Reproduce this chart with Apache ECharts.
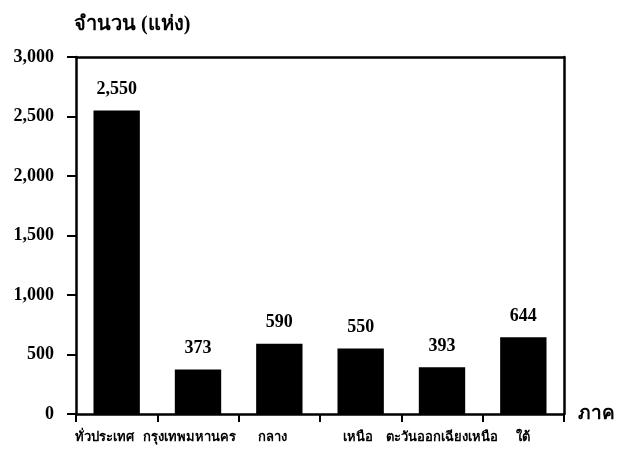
<!DOCTYPE html>
<html><head><meta charset="utf-8">
<script src="https://cdn.jsdelivr.net/npm/echarts@6/dist/echarts.min.js"></script>
<style>html,body{margin:0;padding:0;background:#fff}#c{width:618px;height:454px}</style>
</head><body><div id="c"></div>
<script>
const categories = ['ทั่วประเทศ','กรุงเทพมหานคร','กลาง','เหนือ','ตะวันออกเฉียงเหนือ','ใต้'];
const values = [2550, 373, 590, 550, 393, 644];
const yTicks = [0, 500, 1000, 1500, 2000, 2500, 3000];
const yTitle = 'จำนวน (แห่ง)';
const xTitle = 'ภาค';

const fmt = v => Number(v).toLocaleString('en-US');
const serif = '"Liberation Serif", "Times New Roman", serif';
// small leftward nudges of the category labels, as in the reference
const labelNudge = [24, 18, 14, 6, 0, 0];
const catData = categories.map((c, i) => ({value: c, textStyle: {padding: [0, labelNudge[i], 0, 0]}}));

const chart = echarts.init(document.getElementById('c'));
chart.setOption({
  animation: false,
  grid: {left: 76, right: 54, top: 57, bottom: 40, containLabel: false},
  xAxis: [{
    type: 'category', data: catData, position: 'bottom',
    name: xTitle, nameLocation: 'end', nameGap: 14,
    nameTextStyle: {color: '#000', fontWeight: 'bold', fontSize: 19, fontFamily: serif, verticalAlign: 'middle'},
    axisLine: {lineStyle: {color: '#000', width: 2.5}},
    axisTick: {show: true, alignWithLabel: false, length: 8, lineStyle: {color: '#000', width: 2}},
    axisLabel: {color: '#000', fontWeight: 'bold', fontSize: 13, fontFamily: serif, margin: 17, interval: 0, hideOverlap: false}
  }, {
    type: 'category', data: categories, position: 'top',
    axisLine: {onZero: false, lineStyle: {color: '#000', width: 2.5}},
    axisTick: {show: false}, axisLabel: {show: false}
  }],
  yAxis: [{
    type: 'value', min: yTicks[0], max: yTicks[yTicks.length - 1], interval: yTicks[1] - yTicks[0],
    name: yTitle, nameLocation: 'end', nameGap: 22,
    nameTextStyle: {color: '#000', fontWeight: 'bold', fontSize: 20, fontFamily: serif, align: 'left', padding: [0, 0, 0, -2]},
    axisLine: {show: true, lineStyle: {color: '#000', width: 2.5}},
    axisTick: {show: true, length: 9, lineStyle: {color: '#000', width: 2}},
    splitLine: {show: false},
    axisLabel: {color: '#000', fontWeight: 'bold', fontSize: 18, fontFamily: serif, margin: 22, formatter: fmt}
  }, {
    type: 'value', min: yTicks[0], max: yTicks[yTicks.length - 1], position: 'right',
    axisLine: {show: true, onZero: false, lineStyle: {color: '#000', width: 2.5}},
    axisTick: {show: false}, axisLabel: {show: false}, splitLine: {show: false}
  }],
  series: [{
    type: 'bar', data: values, barCategoryGap: '43%',
    itemStyle: {color: '#000'},
    label: {show: true, position: 'top', distance: 12, color: '#000', fontWeight: 'bold', fontSize: 18, fontFamily: serif, formatter: p => fmt(p.value)}
  }]
});
</script></body></html>
